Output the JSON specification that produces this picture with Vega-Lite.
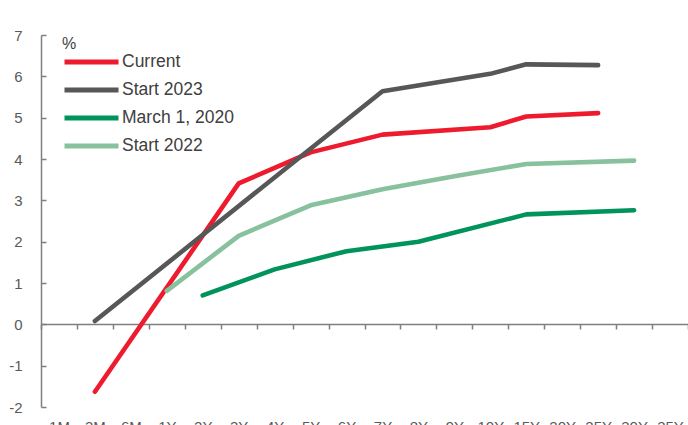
{
  "$schema": "https://vega.github.io/schema/vega-lite/v6.json",
  "width": 647,
  "height": 372,
  "autosize": {"type": "none"},
  "padding": {"left": 41, "top": 35, "right": 0, "bottom": 18},
  "background": "white",
  "config": {
    "view": {"stroke": null},
    "font": "Liberation Sans"
  },
  "data": {
    "values": [
      {"tenor": "3M", "series": "Current", "value": -1.63},
      {"tenor": "3Y", "series": "Current", "value": 3.41},
      {"tenor": "5Y", "series": "Current", "value": 4.16},
      {"tenor": "7Y", "series": "Current", "value": 4.59},
      {"tenor": "10Y", "series": "Current", "value": 4.77},
      {"tenor": "15Y", "series": "Current", "value": 5.03},
      {"tenor": "25Y", "series": "Current", "value": 5.11},
      {"tenor": "3M", "series": "Start 2023", "value": 0.08},
      {"tenor": "7Y", "series": "Start 2023", "value": 5.64},
      {"tenor": "10Y", "series": "Start 2023", "value": 6.06},
      {"tenor": "15Y", "series": "Start 2023", "value": 6.29},
      {"tenor": "25Y", "series": "Start 2023", "value": 6.27},
      {"tenor": "2Y", "series": "March 1, 2020", "value": 0.70},
      {"tenor": "4Y", "series": "March 1, 2020", "value": 1.33},
      {"tenor": "6Y", "series": "March 1, 2020", "value": 1.77},
      {"tenor": "8Y", "series": "March 1, 2020", "value": 2.00},
      {"tenor": "15Y", "series": "March 1, 2020", "value": 2.66},
      {"tenor": "30Y", "series": "March 1, 2020", "value": 2.76},
      {"tenor": "1Y", "series": "Start 2022", "value": 0.81},
      {"tenor": "3Y", "series": "Start 2022", "value": 2.14},
      {"tenor": "5Y", "series": "Start 2022", "value": 2.88},
      {"tenor": "7Y", "series": "Start 2022", "value": 3.27},
      {"tenor": "9Y", "series": "Start 2022", "value": 3.58},
      {"tenor": "15Y", "series": "Start 2022", "value": 3.88},
      {"tenor": "30Y", "series": "Start 2022", "value": 3.96}
    ]
  },
  "mark": {"type": "line", "strokeWidth": 4.6, "strokeCap": "round", "strokeJoin": "round"},
  "encoding": {
    "x": {
      "field": "tenor",
      "type": "ordinal",
      "sort": null,
      "scale": {
        "type": "band",
        "paddingInner": 0,
        "paddingOuter": 0,
        "domain": ["1M", "3M", "6M", "1Y", "2Y", "3Y", "4Y", "5Y", "6Y", "7Y", "8Y", "9Y", "10Y", "15Y", "20Y", "25Y", "30Y", "35Y"]
      },
      "axis": {
        "title": null,
        "orient": "bottom",
        "offset": -83,
        "tickBand": "extent",
        "tickSize": 5,
        "tickWidth": 1.5,
        "tickColor": "#7f7f7f",
        "domainColor": "#7f7f7f",
        "domainWidth": 1.5,
        "labelAngle": 0,
        "labelPadding": 90,
        "labelDx": -6,
        "labelFontSize": 15,
        "labelColor": "#595959",
        "grid": false
      }
    },
    "y": {
      "field": "value",
      "type": "quantitative",
      "scale": {"domain": [-2, 7], "nice": false, "zero": false},
      "axis": {
        "title": null,
        "values": [-2, -1, 0, 1, 2, 3, 4, 5, 6, 7],
        "labelExpr": "toString(datum.value)",
        "tickSize": -5,
        "tickWidth": 1.5,
        "tickColor": "#7f7f7f",
        "domainColor": "#7f7f7f",
        "domainWidth": 1.5,
        "labelPadding": 24,
        "labelFontSize": 15,
        "labelColor": "#595959",
        "grid": false
      }
    },
    "color": {
      "field": "series",
      "type": "nominal",
      "sort": ["Current", "Start 2023", "March 1, 2020", "Start 2022"],
      "scale": {
        "domain": ["Current", "Start 2023", "March 1, 2020", "Start 2022"],
        "range": ["#EE1B2F", "#575757", "#00945A", "#87C19E"]
      },
      "legend": {
        "title": "%",
        "titleFontSize": 16,
        "titleFontWeight": "normal",
        "titleColor": "#404040",
        "titlePadding": 0,
        "orient": "none",
        "legendX": 21,
        "legendY": 1,
        "symbolType": "stroke",
        "symbolSize": 2916,
        "symbolStrokeWidth": 5,
        "clipHeight": 20,
        "labelFontSize": 17.5,
        "labelColor": "#404040",
        "labelOffset": 1,
        "rowPadding": 8
      }
    }
  }
}
